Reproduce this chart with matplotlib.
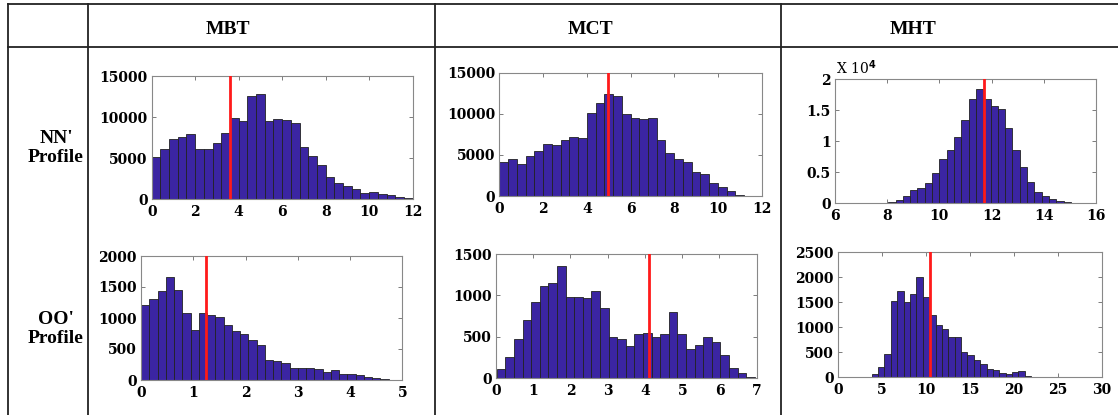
import matplotlib
matplotlib.use("Agg")
import matplotlib.pyplot as plt
import numpy as np
from matplotlib.lines import Line2D

# histogram counts (30 bins per panel)
mbt_nn = [5200, 6150, 7300, 7620, 7900, 6150, 6150, 6800, 8100, 9830,
          9500, 12600, 12800, 9500, 9800, 9700, 9250, 6350, 5250, 4200,
          2700, 1950, 1640, 1230, 820, 940, 650, 490, 330, 120]
mct_nn = [4180, 4500, 3850, 4840, 5450, 6390, 6270, 6890, 7210, 7130,
          10160, 11310, 12460, 12210, 10000, 9510, 9430, 9470, 6800, 5200,
          4500, 4140, 2900, 2700, 1600, 1070, 570, 80, 40, 20]
mht_nn = [20, 50, 50, 80, 270, 600, 1130, 2100, 2430, 3300,
          4800, 7190, 8600, 10600, 13460, 16860, 18430, 16810, 15620, 15140,
          12050, 8650, 5840, 3350, 1890, 1130, 650, 380, 220, 50]
mbt_oo = [1211, 1308, 1443, 1665, 1459, 1081, 811, 1081, 1054, 1022,
          886, 795, 741, 649, 557, 319, 314, 270, 195, 195,
          195, 178, 130, 162, 92, 97, 76, 43, 38, 22]
mct_oo = [118, 255, 478, 701, 920, 1111, 1155, 1350, 981, 981,
          973, 1050, 851, 503, 478, 385, 539, 547, 503, 535,
          795, 535, 353, 401, 503, 438, 284, 126, 69, 12]
mht_oo = [13, 74, 208, 476, 1530, 1718, 1497, 1664, 2007, 1611,
          1255, 1047, 966, 812, 812, 503, 456, 347, 267, 167,
          140, 87, 73, 100, 127, 27, 13, 7, 13, 13]

# first bin edge and bin width of each histogram
bins_mbt_nn = (0.0, 0.4)
bins_mct_nn = (0.0, 0.4)
bins_mht_nn = (6.92, 0.28)
bins_mbt_oo = (0.0, 0.158)
bins_mct_oo = (0.02, 0.231)
bins_mht_oo = (3.14, 0.725)

# red marker position
mark = {"mbt_nn": 3.62, "mct_nn": 4.99, "mht_nn": 11.70,
        "mbt_oo": 1.24, "mct_oo": 4.12, "mht_oo": 10.49}

columns = ["MBT", "MCT", "MHT"]
rows = ["NN'\nProfile", "OO'\nProfile"]

W, H = 1118, 415
fig = plt.figure(figsize=(W / 100, H / 100), dpi=100)

BAR = "#3b25a2"
tick_font = dict(family="DejaVu Serif", weight="bold", size=10)


def px_axes(x0, x1, y_top, y_bot):
    return fig.add_axes([x0 / W, 1 - y_bot / H, (x1 - x0) / W, (y_bot - y_top) / H])


def panel(box, counts, bins, xm, xlim, xticks, ylim, yticks, scale=1.0, ytl=None):
    ax = px_axes(*box)
    start, w = bins
    left = start + w * np.arange(len(counts))
    ax.bar(left, np.array(counts) / scale, width=w, align="edge",
           color=BAR, edgecolor="#222222", linewidth=0.6, zorder=2)
    ax.axvline(xm, color="#ff1a1a", lw=2, zorder=3)
    ax.set_xlim(*xlim)
    ax.set_ylim(*ylim)
    ax.set_xticks(xticks)
    ax.set_yticks(yticks)
    ax.set_xticklabels([str(t) for t in xticks], **tick_font)
    ax.set_yticklabels(ytl if ytl else [str(t) for t in yticks], **tick_font)
    ax.tick_params(direction="in", top=True, right=True, length=3,
                   width=0.6, color="#666666", pad=3)
    ax.tick_params(axis="x", pad=4)
    for s in ax.spines.values():
        s.set_color("#888888")
        s.set_linewidth(0.8)
    return ax


panel((151.7, 412.7, 76, 199.3), mbt_nn, bins_mbt_nn, mark["mbt_nn"],
      (0, 12), range(0, 13, 2), (0, 15000), range(0, 15001, 5000))
panel((499.3, 761.7, 73, 196), mct_nn, bins_mct_nn, mark["mct_nn"],
      (0, 12), range(0, 13, 2), (0, 15000), range(0, 15001, 5000))
ax3 = panel((835, 1096, 79, 203.3), mht_nn, bins_mht_nn, mark["mht_nn"],
            (6, 16), range(6, 17, 2), (0, 2), [0, 0.5, 1, 1.5, 2], scale=1e4,
            ytl=["0", "0.5", "1", "1.5", "2"])
fig.text(836 / W, 1 - 74 / H, r"X 10$^{\mathbf{4}}$", family="DejaVu Serif",
         size=10, ha="left", va="baseline")
panel((141, 402.3, 256, 380), mbt_oo, bins_mbt_oo, mark["mbt_oo"],
      (0, 5), range(0, 6), (0, 2000), range(0, 2001, 500))
panel((496, 756.7, 254, 378.3), mct_oo, bins_mct_oo, mark["mct_oo"],
      (0, 7), range(0, 8), (0, 1500), range(0, 1501, 500))
panel((837.7, 1101.7, 252.3, 377.3), mht_oo, bins_mht_oo, mark["mht_oo"],
      (0, 30), range(0, 31, 5), (0, 2500), range(0, 2501, 500))

# table grid
lw = 1.3
for x in [8, 88, 435, 781]:
    fig.add_artist(Line2D([x / W, x / W], [0, 1 - 4 / H], color="#222222", lw=lw))
for y in [4, 47]:
    fig.add_artist(Line2D([8 / W, 1], [1 - y / H, 1 - y / H], color="#222222", lw=lw))

head = dict(family="Liberation Serif", weight="bold", size=14, ha="center", va="center")
for name, x in zip(columns, [228, 590, 913]):
    fig.text(x / W, 1 - 29 / H, name, **head)
row = dict(family="Liberation Serif", weight="bold", size=14, ha="center",
           va="center", linespacing=1.15)
for name, y in zip(rows, [148, 329]):
    fig.text(56 / W, 1 - y / H, name, **row)

fig.savefig("out.png", dpi=100)
